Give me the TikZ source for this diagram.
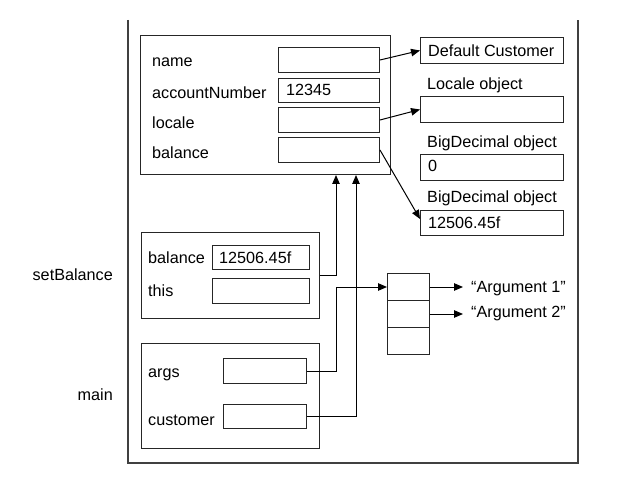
\documentclass[tikz,border=0pt]{standalone}
\usepackage{fontspec}
\setmainfont{Liberation Sans}
\usetikzlibrary{arrows.meta}
\tikzset{
  bx/.style={draw=black!85, line width=1pt, rectangle, inner sep=0pt, anchor=north west},
  txt/.style={inner sep=0pt, anchor=base west, font=\fontsize{16.2}{19}\selectfont},
  rtxt/.style={inner sep=0pt, anchor=base east, font=\fontsize{16.2}{19}\selectfont},
  conn/.style={line width=1pt, draw=black},
  arr/.style={conn, -{Triangle[length=9pt,width=7.5pt]}},
  frame/.style={line width=1.1pt, draw=black!75}
}
\newcommand\bx[5]{\node[bx, minimum width=#4pt-#2pt, minimum height=#5pt-#3pt] (#1) at (#2,#3) {};}
\begin{document}
\begin{tikzpicture}[x=1pt,y=-1pt]
\useasboundingbox (0,0) rectangle (620,478);
% outer frame (open on top)
\draw[frame] (128,20) -- (128,463) -- (578,463) -- (578,20);
% object
\bx{obj}{140}{35}{390}{174}
\bx{nameF}{278}{47}{379}{72}
\bx{accF}{278}{78}{379}{102}
\bx{locF}{278}{107}{379}{132}
\bx{balF}{278}{137}{379}{162}
\node[txt] (tname) at (152,67) {name};
\node[txt] (tacc) at (152,99) {accountNumber};
\node[txt] (tloc) at (152,129) {locale};
\node[txt] (tbal) at (152,159) {balance};
\node[txt] (v12345) at (286,96) {12345};
% right objects
\bx{dc}{420}{37}{563}{63}
\node[txt] (tdc) at (428,57) {Default Customer};
\node[txt] (tlocobj) at (427,90) {Locale object};
\bx{loc}{420}{96}{563}{122}
\node[txt] (tbd0) at (427,148) {BigDecimal object};
\bx{bdz}{420}{154}{563}{180}
\node[txt] (vz) at (428,172) {0};
\node[txt] (tbd1) at (427,203) {BigDecimal object};
\bx{bdo}{420}{210}{563}{235}
\node[txt] (vbd) at (428,228) {12506.45f};
% setBalance frame
\node[rtxt] (tsb) at (113,280) {setBalance};
\bx{sb}{141}{232}{319}{318}
\bx{sbBal}{212}{245}{309}{269}
\bx{sbThis}{212}{278}{309}{303}
\node[txt] (tsbbal) at (148,263) {balance};
\node[txt] (vsbbal) at (219,263) {12506.45f};
\node[txt] (tthis) at (148,296) {this};
% main frame
\node[rtxt] (tmain) at (113,400) {main};
\bx{mn}{141}{343}{319}{448}
\bx{argsF}{223}{358}{306}{383}
\bx{custF}{223}{404}{306}{428}
\node[txt] (targs) at (148,377) {args};
\node[txt] (tcust) at (148,425) {customer};
% array
\bx{ar1}{387}{273}{429}{300}
\bx{ar2}{387}{300}{429}{327}
\bx{ar3}{387}{327}{429}{354}
\node[txt] (a1) at (471,292) {“Argument 1”};
\node[txt] (a2) at (471,317) {“Argument 2”};
% column coordinates
\coordinate (c1) at (336,0);
\coordinate (c2) at (356,0);
% connectors
\draw[arr] (nameF.east) -- (dc.west);
\draw[arr] (locF.east) -- (loc.west);
\draw[arr] (balF.east) -- ([yshift=4pt]bdo.west);
\draw[arr] (sb.east) -| (c1 |- obj.south);
\draw[arr] (custF.east) -| (c2 |- obj.south);
\draw[arr] (argsF.east) -| (c1 |- ar1.west) -- (ar1.west);
\draw[arr] (ar1.east) -- ([xshift=-8pt]ar1.east -| a1.west);
\draw[arr] (ar2.east) -- ([xshift=-8pt]ar2.east -| a2.west);
\end{tikzpicture}
\end{document}
